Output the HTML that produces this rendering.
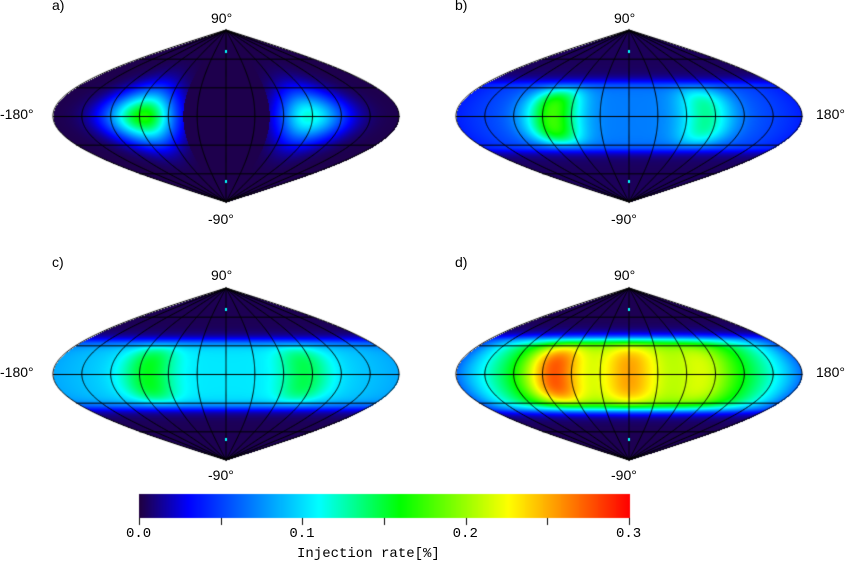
<!DOCTYPE html>
<html><head><meta charset="utf-8"><style>
body{margin:0;background:#fff;width:850px;height:566px;overflow:hidden;position:relative;font-family:"Liberation Sans",sans-serif}
.t{position:absolute;font-size:14px;color:#000;white-space:nowrap}
canvas{position:absolute;left:0;top:0}
</style></head><body>
<canvas id="c" width="850" height="566"></canvas>
<div class="t" style="left:52px;top:-3px">a)</div>
<div class="t" style="left:455px;top:-3px">b)</div>
<div class="t" style="left:52px;top:254px">c)</div>
<div class="t" style="left:455px;top:254px">d)</div>
<div class="t" style="left:211px;top:10px">90°</div>
<div class="t" style="left:614px;top:10px">90°</div>
<div class="t" style="left:211px;top:267px">90°</div>
<div class="t" style="left:614px;top:267px">90°</div>
<div class="t" style="left:208px;top:211px">-90°</div>
<div class="t" style="left:611px;top:211px">-90°</div>
<div class="t" style="left:208px;top:467px">-90°</div>
<div class="t" style="left:611px;top:467px">-90°</div>
<div class="t" style="left:0px;top:106px">-180°</div>
<div class="t" style="left:816px;top:106px">180°</div>
<div class="t" style="left:0px;top:364px">-180°</div>
<div class="t" style="left:816px;top:364px">180°</div>
<div class="t" style="left:297px;top:546px;font-family:'Liberation Mono',monospace;font-size:14px">Injection rate[%]</div>
<div id="ticks"></div>
<script>
// Colorbar data
const cbTicks=[0,0.05,0.1,0.15,0.2,0.25,0.3];
const cbLabels=["0.0","0.1","0.2","0.3"];
const cbLabelVals=[0,0.1,0.2,0.3];
// Panel data
const panelNames=["a","b","c","d"];
const bandBase=[0.0,0.065,0.10,0.20];
const bgLevel=[0.002,0.004,0.003,0.003];
const bandLat=[30,33,33,36];
const haloAmp=[0,0.035,0.03,0.035];
const blobLon=[[-85,85],[-80,80],[-82,82],[-80,0,80]];
const blobAmp=[[0.165,0.115],[0.11,0.065],[0.055,0.045],[0.09,0.05,0.03]];
const edgeDrop=[0,0.03,0.02,0.14];
const centers=[[226,116],[629,116],[226,374],[629,374]];
const R=173,H=86;

const stops=[[0,[32,0,64]],[0.03,[0,0,255]],[0.11,[0,255,255]],[0.16,[0,255,0]],[0.226,[255,255,0]],[0.3,[255,0,0]]];
function cmap(v){v=Math.max(0,Math.min(0.3,v));
 for(let i=1;i<stops.length;i++){if(v<=stops[i][0]){const a=stops[i-1],b=stops[i],t=(v-a[0])/(b[0]-a[0]);
  return a[1].map((c,k)=>Math.round(c+(b[1][k]-c)*t));}}return stops[stops.length-1][1];}
function value(p,lon,lat){
 const al=Math.abs(lat);
 if(p===0){let v=0;blobLon[p].forEach((L,i)=>{const d=lon-L;const inner=(d*L<0);const ad=Math.abs(d);
   let f=inner?(ad<40?Math.exp(-Math.pow(ad/30,2)):0):Math.exp(-Math.pow(ad/38,2));
   v+=blobAmp[p][i]*f*Math.exp(-Math.pow(lat/27,2));});
   return bgLevel[p]+v;}
 const band=1/(1+Math.exp((al-bandLat[p])/3));
 let v=bandBase[p]-edgeDrop[p]*Math.pow(Math.abs(lon)/180,2.5);
 blobLon[p].forEach((L,i)=>{const d=(lon-L)/28;v+=blobAmp[p][i]*Math.exp(-d*d)*Math.exp(-Math.pow(lat/30,4));});
 const halo=al>bandLat[p]-4?haloAmp[p]*Math.exp(-Math.max(0,al-bandLat[p])/5):haloAmp[p];
 return bgLevel[p]+band*v+(1-band)*halo;
}
const cv=document.getElementById('c'),ctx=cv.getContext('2d');
const img=ctx.createImageData(850,566);
for(let p=0;p<4;p++){const [cx,cy]=centers[p];
 for(let y=cy-H;y<=cy+H;y++){const lat=(cy-y)/H*90;const w=R*Math.cos(lat*Math.PI/180);
  for(let x=Math.ceil(cx-w);x<=cx+w;x++){const lon=(x-cx)/Math.max(w,1e-6)*180;const c=cmap(value(p,lon,lat));
   const i=(y*850+x)*4;img.data[i]=c[0];img.data[i+1]=c[1];img.data[i+2]=c[2];img.data[i+3]=255;}}}
const bx0=139,bx1=629,by0=494,by1=518;
for(let x=bx0;x<=bx1;x++){const c=cmap((x-bx0)/(bx1-bx0)*0.3);for(let y=by0;y<by1;y++){const i=(y*850+x)*4;img.data[i]=c[0];img.data[i+1]=c[1];img.data[i+2]=c[2];img.data[i+3]=255;}}
ctx.putImageData(img,0,0);
ctx.strokeStyle='#000';ctx.lineWidth=1;
centers.forEach(([cx,cy])=>{
 for(let L=-180;L<=180;L+=30){ctx.beginPath();for(let a=-90;a<=90;a+=1){const x=cx+R*L/180*Math.cos(a*Math.PI/180),y=cy-H*a/90;a===-90?ctx.moveTo(x,y):ctx.lineTo(x,y);}ctx.stroke();}
 for(let a=-60;a<=60;a+=30){const y=cy-H*a/90+0.5,w=R*Math.cos(a*Math.PI/180);ctx.beginPath();ctx.moveTo(cx-w,y);ctx.lineTo(cx+w,y);ctx.stroke();}
 ctx.fillStyle='#0ff';ctx.fillRect(cx-1,cy-H+20,2,3);ctx.fillRect(cx-1,cy+H-22,2,3);
});
const sx=v=>bx0+(v-0)/0.3*(bx1-bx0);
cbTicks.forEach(v=>{ctx.beginPath();ctx.moveTo(Math.round(sx(v))+0.5,by1);ctx.lineTo(Math.round(sx(v))+0.5,by1+7);ctx.stroke();});
const tk=document.getElementById('ticks');
cbLabels.forEach((s,i)=>{const d=document.createElement('div');d.className='t';d.textContent=s;
 d.style.fontFamily="'Liberation Mono',monospace";d.style.left=(sx(cbLabelVals[i])-13)+'px';d.style.top='526px';
 
 
 tk.appendChild(d);});
</script>
</body></html>
